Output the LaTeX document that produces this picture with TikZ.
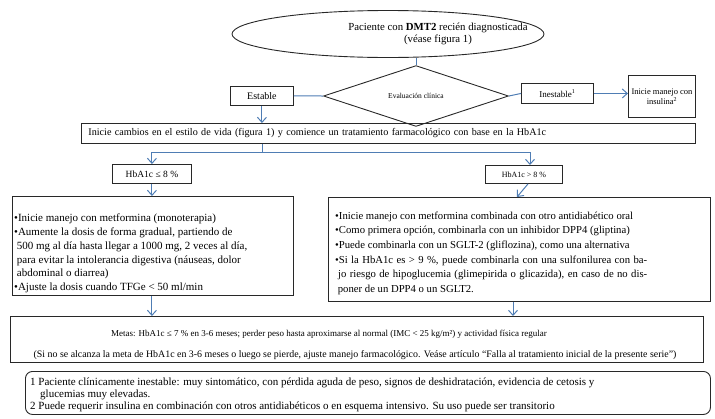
\documentclass[tikz,border=0pt]{standalone}
\usepackage{fontspec}
\setmainfont{Liberation Serif}
\usetikzlibrary{positioning,shapes,arrows.meta}
\definecolor{linkblue}{RGB}{79,125,180}
\definecolor{boxline}{RGB}{40,40,40}

\begin{document}
\begin{tikzpicture}[%
        x=1pt, y=-1pt,
        >={Straight Barb[length=5pt,width=9pt]},
        conn/.style={%
          draw=linkblue,
          line width=1pt
        },
        box/.style={%
          rectangle,
          draw=boxline,
          line width=0.9pt,
          inner sep=0pt,
          anchor=north west
        },
        txt/.style={%
          align=left,
          anchor=north west,
          inner sep=0pt
        }
      ]
      \useasboundingbox (0,0) rectangle (715,418);
      % top of the chart
      \node[ellipse,draw=boxline,line width=0.9pt,minimum width=312pt,minimum height=47pt] (pac) at (388,34) {};
      \node[align=center,font=\fontsize{10.8}{12.5}\selectfont] (pactext) at (438,34)
        {Paciente con \textbf{DMT2} recién diagnosticada\\(véase figura 1)};
      \node[diamond,draw=boxline,line width=0.9pt,minimum width=185pt,minimum height=42pt,inner sep=0pt,
            font=\fontsize{7.5}{9}\selectfont] (eval) at (416,96) {Evaluación clínica};
      \node[box,minimum width=63pt,minimum height=19pt,font=\fontsize{10}{12}\selectfont] (estable) at (230,86) {Estable};
      \node[box,minimum width=72pt,minimum height=20pt,font=\fontsize{9}{11}\selectfont] (inest) at (521,83) {Inestable\textsuperscript{1}};
      \node[box,minimum width=67pt,minimum height=42pt,align=center,font=\fontsize{8.5}{10}\selectfont] (insul) at (628,75)
        {Inicie manejo con\\insulina\textsuperscript{2}};
      % lifestyle and HbA1c
      \node[box,minimum width=614pt,minimum height=20pt,text width=600pt,inner xsep=7pt,align=left,
            font=\fontsize{10.15}{12}\selectfont] (life) at (81,123)
        {Inicie cambios en el estilo de vida (figura 1) y comience un tratamiento farmacológico con base en la HbA1c};
      \coordinate (split) at (262,152);
      \node[box,minimum width=79pt,minimum height=19pt,font=\fontsize{9.5}{11}\selectfont] (low) at (112,164) {HbA1c ≤ 8 \%};
      \node[box,minimum width=77pt,minimum height=18pt,font=\fontsize{8}{10}\selectfont] (high) at (485,165) {HbA1c > 8 \%};
      \coordinate (hin) at (530,0);
      \coordinate (hout) at (528,0);
      \coordinate (rin) at (517,0);
      \coordinate (rout) at (513,0);
      % treatment boxes
      \node[box,minimum width=281pt,minimum height=99pt] (lbox) at (12,196) {};
      \node[txt,font=\fontsize{11}{13.7}\selectfont] (ltext) at (14,214)
        {•Inicie manejo con metformina (monoterapia)\\
         •Aumente la dosis de forma gradual, partiendo de\\
         \ 500 mg al día hasta llegar a 1000 mg, 2 veces al día,\\
         \ para evitar la intolerancia digestiva (náuseas, dolor\\
         \ abdominal o diarrea)\\
         •Ajuste la dosis cuando TFGe < 50 ml/min};
      \node[box,minimum width=382pt,minimum height=104pt] (rbox) at (328,197) {};
      \node[txt,font=\fontsize{10.7}{14.6}\selectfont] (rtext) at (335,211.5)
        {•Inicie manejo con metformina combinada con otro antidiabético oral\\
         •Como primera opción, combinarla con un inhibidor DPP4 (gliptina)\\
         •Puede combinarla con un SGLT-2 (gliflozina), como una alternativa\\
         \makebox[312pt][s]{•Si la HbA1c es > 9 \%, puede combinarla con una sulfonilurea con ba-}\\
         \hspace*{3pt}\makebox[309pt][s]{jo riesgo de hipoglucemia (glimepirida o glicazida), en caso de no dis-}\\
         \ poner de un DPP4 o un SGLT2.};
      % goals
      \node[box,minimum width=693pt,minimum height=46pt] (metas) at (10,316) {};
      \node[font=\fontsize{9}{10}\selectfont] (metas1) at (329,334)
        {Metas: HbA1c ≤ 7 \% en 3-6 meses; perder peso hasta aproximarse al normal (IMC < 25 kg/m²) y actividad física regular};
      \node[font=\fontsize{9.9}{11}\selectfont] (metas2) at (355,355)
        {(Si no se alcanza la meta de HbA1c en 3-6 meses o luego se pierde, ajuste manejo farmacológico. Veáse artículo “Falla al tratamiento inicial de la presente serie”)};
      % notes
      \node[box,rounded corners=7pt,minimum width=685pt,minimum height=43pt] (notes) at (25,371) {};
      \node[txt,font=\fontsize{11}{12}\selectfont] (notetext) at (30,378)
        {1 Paciente clínicamente inestable: muy sintomático, con pérdida aguda de peso, signos de deshidratación, evidencia de cetosis y\\
         \hspace*{10pt}glucemias muy elevadas.\\
         2 Puede requerir insulina en combinación con otros antidiabéticos o en esquema intensivo. Su uso puede ser transitorio};
      % connectors
      \path[conn] (eval.north) edge (eval.north |- pac.south)
      (estable.east) edge (eval.west)
      (eval.east) edge (inest.west);
      \draw[conn,->] (inest.east) -- (inest.east -| insul.west);
      \draw[conn,->] (estable.south) -- (estable.south |- life.north);
      \draw[conn] (split |- life.south) -- (split);
      \draw[conn,->] (split) -| (low.north);
      \draw[conn,->] (split) -| (hin |- high.north);
      \draw[conn,->] (low.south) -- (low.south |- lbox.north);
      \draw[conn,->] (hout |- high.south) -- (rin |- rbox.north);
      \draw[conn,->] (low.south |- lbox.south) -- (low.south |- metas.north);
      \draw[conn,->] (rout |- rbox.south) -- (rout |- metas.north);
  \end{tikzpicture}
\end{document}
